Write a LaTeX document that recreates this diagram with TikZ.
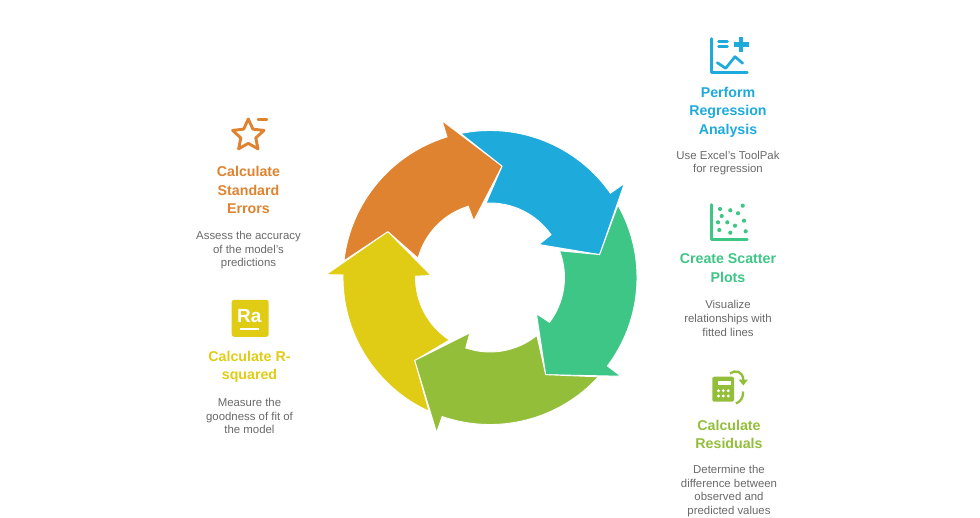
\documentclass[tikz,border=0pt]{standalone}
\usepackage{fontspec}
\setmainfont{Liberation Sans}
\usepackage{xcolor}
\usetikzlibrary{shapes.geometric, positioning}
\definecolor{regressioncolor}{RGB}{30, 171, 219}
\definecolor{scattercolor}{RGB}{62, 198, 134}
\definecolor{residualcolor}{RGB}{147, 190, 58}
\definecolor{rsquaredcolor}{RGB}{224, 204, 21}
\definecolor{errorcolor}{RGB}{223, 131, 48}
\definecolor{bodycolor}{RGB}{105, 105, 105}
\newcommand{\ringarrow}[2]{%
  \begin{scope}[shift={(490,-277.5)}, rotate=#2]
    \fill[#1, draw=white, line width=0.9pt, line join=miter]
      (179:147pt) -- (179:164pt) -- (155.8:112pt) -- (178:59pt) -- (179:74.5pt)
      arc[start angle=179, end angle=237, radius=74.5pt]
      -- (227.8:112pt) -- (245.5:147pt)
      arc[start angle=245.5, end angle=179, radius=147pt] -- cycle;
  \end{scope}}

\begin{document}
\begin{tikzpicture}[
    x=1pt, y=1pt,
    head/.style={align=center, inner sep=0pt, font=\fontsize{14.2}{18.4}\selectfont\bfseries},
    desc/.style={align=center, inner sep=0pt, text=bodycolor, font=\fontsize{11.4}{13.6}\selectfont},
    axisline/.style={line width=2.5pt, line cap=round, line join=round},
    dot/.style={circle, inner sep=0pt, minimum size=4.2pt}
]
\useasboundingbox (0,0) rectangle (980,-517);

% --- Ring ---
\ringarrow{rsquaredcolor}{0}
\ringarrow{errorcolor}{-72}
\ringarrow{regressioncolor}{-144}
\ringarrow{scattercolor}{-216}
\ringarrow{residualcolor}{-288}

% --- Perform Regression Analysis ---
\draw[axisline, regressioncolor] (711.7,-38.5) -- (711.7,-72.7) -- (747.3,-72.7);
\draw[axisline, regressioncolor] (718.5,-41.7) -- (727.5,-41.7) (718.5,-46.7) -- (727.5,-46.7);
\draw[line width=4.6pt, regressioncolor] (733.5,-44.7) -- (748.5,-44.7) (741,-37.3) -- (741,-52);
\draw[axisline, line width=2.7pt, regressioncolor] (717.3,-62.7) -- (725.7,-68.3) -- (735,-56.7) -- (742.7,-63.3);
\node[head, text=regressioncolor] (regressionhead) at (728,-112) {Perform\\Regression\\Analysis};
\node[desc, below=13.5pt of regressionhead] (regressiondesc) {Use Excel's ToolPak\\for regression};

% --- Create Scatter Plots ---
\draw[axisline, scattercolor] (711.7,-204.5) -- (711.7,-239.3) -- (747.3,-239.3);
\node[dot, fill=scattercolor] (s1) at (720,-209) {};
\node[dot, fill=scattercolor] (s2) at (730.3,-210.3) {};
\node[dot, fill=scattercolor] (s3) at (742.7,-205.7) {};
\node[dot, fill=scattercolor] (s4) at (738,-213.3) {};
\node[dot, fill=scattercolor] (s5) at (721.7,-216) {};
\node[dot, fill=scattercolor] (s6) at (718,-222.3) {};
\node[dot, fill=scattercolor] (s7) at (727.3,-222.3) {};
\node[dot, fill=scattercolor] (s8) at (735,-225.7) {};
\node[dot, fill=scattercolor] (s9) at (744,-220.7) {};
\node[dot, fill=scattercolor] (s10) at (719.3,-230) {};
\node[dot, fill=scattercolor] (s11) at (730.3,-232.7) {};
\node[dot, fill=scattercolor] (s12) at (745.7,-231.3) {};
\node[head, text=scattercolor] (scatterhead) at (728,-268) {Create Scatter\\Plots};
\node[desc, below=18pt of scatterhead] (scatterdesc) {Visualize\\relationships with\\fitted lines};

% --- Calculate Residuals ---
\fill[residualcolor, rounded corners=2pt] (712.3,-376.7) rectangle (734,-401.7);
\fill[white] (718.3,-381) rectangle (730.7,-385);
\node[dot, fill=white, minimum size=3.2pt] (k1) at (718.5,-390.7) {};
\node[dot, fill=white, minimum size=3.2pt] (k2) at (723.3,-390.7) {};
\node[dot, fill=white, minimum size=3.2pt] (k3) at (728.2,-390.7) {};
\node[dot, fill=white, minimum size=3.2pt] (k4) at (718.5,-396) {};
\node[dot, fill=white, minimum size=3.2pt] (k5) at (723.3,-396) {};
\node[dot, fill=white, minimum size=3.2pt] (k6) at (728.2,-396) {};
\draw[line width=2.3pt, residualcolor] (730,-373.5) .. controls (735,-369.5) and (743,-371) .. (743.3,-380);
\fill[residualcolor] (738.5,-379.5) -- (748,-379.5) -- (743.3,-385.5) -- cycle;
\draw[line width=2.3pt, residualcolor] (743,-391.5) .. controls (743.5,-397) and (741,-401.5) .. (736,-403.5);
\node[head, text=residualcolor] (residualhead) at (729,-434.5) {Calculate\\Residuals};
\node[desc, below=16pt of residualhead] (residualdesc) {Determine the\\difference between\\observed and\\predicted values};

% --- Calculate Standard Errors ---
\node[star, star points=5, star point ratio=2.1, draw=errorcolor, line width=2.9pt, line join=round, inner sep=0pt, minimum size=33pt] (errorstar) at (248.3,-135.5) {};
\draw[axisline, errorcolor] (258,-119.7) -- (267,-119.7);
\node[head, text=errorcolor] (errorhead) at (248.5,-190) {Calculate\\Standard\\Errors};
\node[desc, below=17.5pt of errorhead] (errordesc) {Assess the accuracy\\of the model's\\predictions};

% --- Calculate R-squared ---
\node[rectangle, fill=rsquaredcolor, rounded corners=2.5pt, inner sep=0pt, minimum width=37pt, minimum height=37pt] (rsquaredbox) at (250.2,-318.3) {};
\node[text=white, inner sep=0pt, font=\fontsize{19}{19}\selectfont\bfseries] (rsquaredmark) at (249.3,-316.5) {Ra};
\draw[line width=1.8pt, white] (239.5,-329.3) -- (258.5,-329.3);
\node[head, text=rsquaredcolor] (rsquaredhead) at (249.5,-367) {Calculate R-\\squared};
\node[desc, below=15pt of rsquaredhead] (rsquareddesc) {Measure the\\goodness of fit of\\the model};
\end{tikzpicture}
\end{document}
